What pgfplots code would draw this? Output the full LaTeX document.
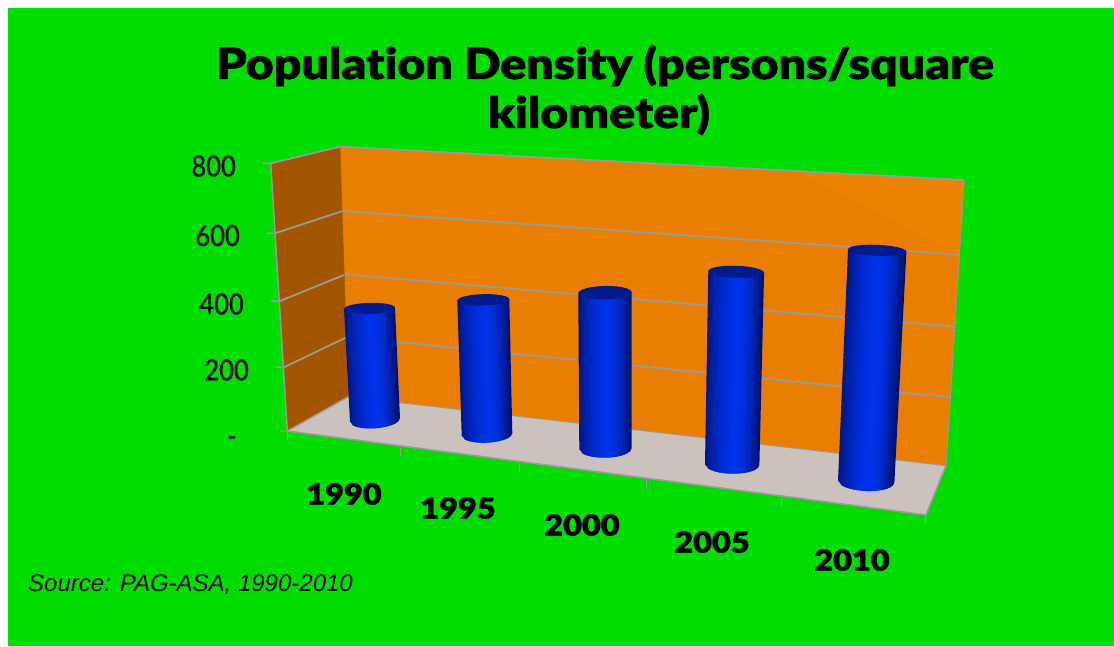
\documentclass[border=0pt]{standalone}
\usepackage{fontspec}
\usepackage{pgfplots}
\usepackage{pgfplotstable}
\pgfplotsset{compat=1.18}
\setmainfont{Lato}
\newfontfamily\heavy{Lato Black}[FakeStretch=1.12,FakeBold=1.2,RawFeature={-liga}]
\newfontfamily\tickfont{Lato}[FakeStretch=.88,FakeBold=.4]
\newfontfamily\srcfont{Liberation Sans}
\definecolor{bggreen}{HTML}{00DD00}
\definecolor{wallback}{HTML}{E87F02}
\definecolor{walllight}{HTML}{EC8302}
\definecolor{wallleft}{HTML}{A35500}
\definecolor{floorc}{HTML}{CBC1BD}
\definecolor{gridc}{HTML}{9A9A9A}
\definecolor{capc}{HTML}{001A90}
\definecolor{cs0}{HTML}{00188C}\definecolor{cs1}{HTML}{001C9C}\definecolor{cs2}{HTML}{0020AC}\definecolor{cs3}{HTML}{0024B8}
\definecolor{cs4}{HTML}{0027C4}\definecolor{cs5}{HTML}{002ACE}\definecolor{cs6}{HTML}{002CD6}\definecolor{cs7}{HTML}{002EDC}
\definecolor{cs8}{HTML}{0030E2}\definecolor{cs9}{HTML}{0031E6}\definecolor{cs10}{HTML}{0032E8}\definecolor{cs11}{HTML}{0032E8}
\definecolor{cs12}{HTML}{0031E4}\definecolor{cs13}{HTML}{002FDC}\definecolor{cs14}{HTML}{002CD0}\definecolor{cs15}{HTML}{0028C2}
\definecolor{cs16}{HTML}{0024B0}\definecolor{cs17}{HTML}{001E9C}\definecolor{cs18}{HTML}{001886}\definecolor{cs19}{HTML}{001270}
\pgfplotstableread{
a t
0 1
1 1
1 0
0 0
}\stripT
\pgfplotstableread{
u w
1 0
.966 .259
.866 .5
.707 .707
.5 .866
.259 .966
0 1
-.259 .966
-.5 .866
-.707 .707
-.866 .5
-.966 .259
-1 0
-.966 -.259
-.866 -.5
-.707 -.707
-.5 -.866
-.259 -.966
0 -1
.259 -.966
.5 -.866
.707 -.707
.866 -.5
.966 -.259
}\capT
\pgfplotstableread{
x y l
344 494 1990
458 508 1995
582 525 2000
712 542 2005
852 560 2010
}\yearT
% #1 base x, #2 base y, #3 base radius, #4 base depth, #5 base slope,
% #6 top x, #7 top radius, #8 top depth, #9 top slope; \V value, \S pixels per unit
\newcommand\cyl[9]{%
  \pgfplotsinvokeforeach{0,...,19}{%
    \def\uu{min(1,-1+##1/10+\thisrow{a}*0.16)}%
    \addplot[draw=none,fill=cs##1] table[
      x expr={(1-\thisrow{t})*(#1+#3*\uu)+\thisrow{t}*(#6+#7*\uu)},
      y expr={(1-\thisrow{t})*(#2+#5*#3*\uu+#4*sqrt(max(0,1-\uu*\uu)))+\thisrow{t}*(#2-\V*\S+#9*#7*\uu)}
    ] {\stripT};
  }%
  \addplot[draw=none,fill=capc] table[
    x expr={#6+#7*\thisrow{u}},
    y expr={#2-\V*\S+#9*#7*\thisrow{u}+#8*\thisrow{w}}
  ] {\capT};
}
\begin{document}
\begin{tikzpicture}[x=1pt,y=1pt]
\fill[white] (0,0) rectangle (1114,646);
\fill[bggreen] (8,0) rectangle (1114,638);
\begin{axis}[
  at={(249pt,116pt)},anchor=south west,
  scale only axis,width=712pt,height=390pt,
  xmin=249,xmax=961,ymin=140,ymax=530,y dir=reverse,
  clip=false,no markers,
  axis line style={draw=none},
  tick style={draw=none},major tick length=0pt,
  xtick=\empty,
  ytick={166,235.5,304,370,441},
  yticklabels={800\kern13pt,600\kern9pt,400\kern5pt,200,-\kern12pt},
  y tick label style={anchor=east,inner sep=0pt,xshift=0pt,font=\tickfont\fontsize{29}{29}\selectfont},
]
% walls
\addplot[draw=none,fill=wallleft] coordinates {(270.7,163.3)(340,146.7)(348.3,396.7)(287.3,431)};
\addplot[draw=none,fill=wallback] coordinates {(340,146.7)(964.3,180)(946,465.7)(348.3,396.7)};
\addplot[draw=none,fill=walllight] coordinates {(800,173)(964.3,180)(958.5,254)};
% grid and wall edges
\addplot[gridc,line width=1.8pt] coordinates {(262.3,163.3)(270.7,163.3)(340,146.7)(964.3,180)};
\addplot[gridc,line width=1.8pt] coordinates {(266.7,233.3)(275,233.3)(342.7,211)(959.7,254.7)};
\addplot[gridc,line width=1.8pt] coordinates {(271,301)(280,301)(345.7,274.3)(955,326.7)};
\addplot[gridc,line width=1.8pt] coordinates {(275.3,367.3)(284,367.3)(347,337)(950.7,397.3)};
\addplot[gridc,line width=1.5pt] coordinates {(270.7,163.3)(287.3,431)};
\addplot[gridc,line width=.9pt] coordinates {(964.3,180)(946,465.7)};
\addplot[wallback!70!black,line width=.5pt] coordinates {(340,146.7)(348.3,396.7)};
% floor
\addplot[draw=none,fill=floorc] coordinates {(287.3,431)(348.3,396.7)(946,465.7)(926,515)};
\addplot[gridc,line width=.9pt] coordinates {(348.3,396.7)(946,465.7)};
\addplot[gridc,line width=1.4pt] coordinates {(279.3,431)(287.3,431)(348.3,396.7)};
\addplot[gridc,line width=1.6pt] coordinates {(287.3,431)(926,515)(946,465.7)};
% x tick marks
\addplot[gridc,line width=1pt] coordinates {(287.7,431)(287.7,441)};
\addplot[gridc,line width=1pt] coordinates {(400,448)(400,456)};
\addplot[gridc,line width=1pt] coordinates {(519.3,463)(519.3,472)};
\addplot[gridc,line width=1pt] coordinates {(646,480)(646,488)};
\addplot[gridc,line width=1pt] coordinates {(781,498)(781,507)};
\addplot[gridc,line width=1pt] coordinates {(925.7,515)(925.7,524)};
% bars: value and pixels per unit
\def\V{341}\def\S{.3275}
\cyl{375}{420}{25}{8.3}{-.068}{369.5}{25.5}{5.5}{-.025}
\def\V{402}\def\S{.335}
\cyl{487}{434.5}{25.3}{8.2}{-.047}{483.3}{26}{5.7}{-.027}
\def\V{454}\def\S{.34375}
\cyl{605.5}{448.8}{26.2}{8.9}{-.019}{605}{26.7}{6.8}{-.019}
\def\V{547}\def\S{.3525}
\cyl{732.2}{464.7}{27.2}{9}{.013}{736.2}{27.9}{6.1}{.03}
\def\V{638}\def\S{.3625}
\cyl{866.2}{481.7}{28.2}{9.3}{.036}{877.2}{29.2}{5.6}{.04}
% category names
\addplot[draw=none,nodes near coords,point meta=explicit symbolic,
  every node near coord/.style={anchor=center,inner sep=0pt,font=\heavy\fontsize{29}{29}\selectfont}]
  table[x=x,y=y,meta=l] {\yearT};
\node[align=center,font=\heavy\fontsize{43}{49}\selectfont] at (axis cs:605,90)
  {Population Density (persons/square\\kilometer)\kern12pt};
\node[anchor=west,inner sep=0pt,font=\srcfont\itshape\fontsize{24}{24}\selectfont] at (axis cs:28,585)
  {Source: PAG-ASA, 1990-2010};
\end{axis}
\end{tikzpicture}
\end{document}
